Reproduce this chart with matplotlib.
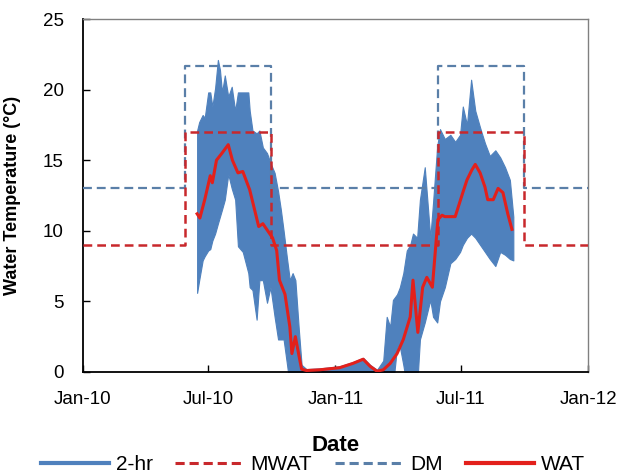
import numpy as np
import matplotlib
matplotlib.use("Agg")
import matplotlib.pyplot as plt
import matplotlib.dates as mdates
from matplotlib.lines import Line2D

plt.rcParams['font.family'] = ['Liberation Sans', 'DejaVu Sans']

# 2-hr readings, drawn as the daily band (upper / lower envelope)
band_dates = ['2010-06-15', '2010-06-18', '2010-06-23', '2010-06-26', '2010-07-01', '2010-07-04',
              '2010-07-07', '2010-07-11', '2010-07-15', '2010-07-18', '2010-07-21', '2010-07-25',
              '2010-07-30', '2010-08-04', '2010-08-09', '2010-08-13', '2010-08-20', '2010-08-28',
              '2010-08-30', '2010-09-03', '2010-09-09', '2010-09-13', '2010-09-18', '2010-09-24',
              '2010-09-29', '2010-10-05', '2010-10-10', '2010-10-14', '2010-10-18', '2010-10-23',
              '2010-10-27', '2010-10-31', '2010-11-04', '2010-11-09', '2010-11-13',
              '2010-11-20', '2010-12-09', '2011-01-07', '2011-01-26', '2011-02-10', '2011-02-20',
              '2011-03-02',
              '2011-03-11', '2011-03-16', '2011-03-21', '2011-03-25', '2011-03-31', '2011-04-04',
              '2011-04-09', '2011-04-14', '2011-04-19', '2011-04-23', '2011-04-29', '2011-05-03',
              '2011-05-10', '2011-05-18', '2011-05-22', '2011-05-28', '2011-06-01', '2011-06-08',
              '2011-06-16', '2011-06-23', '2011-06-30', '2011-07-04', '2011-07-10', '2011-07-16',
              '2011-07-22', '2011-07-29', '2011-08-05', '2011-08-12', '2011-08-20', '2011-08-27',
              '2011-09-03', '2011-09-10', '2011-09-15']
band_upper = [17.1, 17.7, 18.2, 18.0, 19.8, 19.8, 18.8, 20.1, 22.1, 21.4, 19.8, 21.0, 19.5,
              20.2, 18.5, 19.8, 19.8, 19.8, 18.5, 17.1, 16.9, 17.1, 15.9, 15.5, 14.8,
              14.1, 12.8, 11.5, 10.0, 8.0, 6.5, 7.0, 6.5, 3.0, 0.5,
              0.2, 0.25, 0.4, 0.7, 1.0, 0.5, 0.15,
              0.8, 3.9, 3.2, 5.1, 5.5, 6.0, 7.0, 8.6, 9.0, 9.8, 9.5,
              12.2, 14.5, 9.5, 12.0, 16.0, 17.2, 16.5, 16.8, 16.3, 16.8,
              18.8, 17.5, 20.7, 18.5, 17.3, 16.2, 15.3, 15.7, 15.2, 14.5, 13.6, 11.0]
band_lower = [5.6, 6.5, 7.9, 8.2, 8.6, 8.7, 9.3, 9.8, 10.5, 11.0, 11.5, 12.2, 14.0,
              13.0, 12.2, 8.9, 8.5, 7.0, 6.0, 5.8, 3.7, 6.5, 6.5, 4.9, 6.0,
              3.9, 2.3, 2.3, 2.3, 0.5, -1, -1, -1, -1, -1,
              -1, -1, -1, -1, -1, -1, -1,
              -1, -1, -1, -1, 1.8, 1.8, 0.5, -1, -1, -1, -1,
              2.3, 3.5, 5.1, 3.9, 3.5, 5.0, 6.0, 7.7, 8.0, 8.5,
              9.0, 9.5, 9.8, 9.5, 9.0, 8.5, 8.0, 7.5, 8.5, 8.3, 8.0, 7.9]

# WAT (7-day average)
wat_dates = ['2010-06-15', '2010-06-19', '2010-06-26', '2010-07-04', '2010-07-07', '2010-07-13',
             '2010-07-21', '2010-07-30', '2010-08-05', '2010-08-13', '2010-08-20', '2010-08-30',
             '2010-09-06', '2010-09-12', '2010-09-18', '2010-09-25', '2010-10-02', '2010-10-08',
             '2010-10-12', '2010-10-20', '2010-10-27', '2010-10-30', '2010-11-04', '2010-11-09',
             '2010-11-13', '2010-11-20', '2010-12-09', '2011-01-07', '2011-01-26', '2011-02-10',
             '2011-02-20', '2011-03-02', '2011-03-11', '2011-03-21', '2011-03-31', '2011-04-09',
             '2011-04-19', '2011-04-23', '2011-04-30', '2011-05-07', '2011-05-13', '2011-05-21',
             '2011-05-25', '2011-05-29', '2011-06-04', '2011-06-08', '2011-06-23', '2011-07-04',
             '2011-07-10', '2011-07-17', '2011-07-22', '2011-07-29', '2011-08-05', '2011-08-09',
             '2011-08-17', '2011-08-24', '2011-08-31', '2011-09-07', '2011-09-13']
wat_vals = [11.2, 10.9, 12.2, 13.9, 13.4, 15.0, 15.5, 16.1, 15.0, 14.1, 14.2, 12.9,
            11.5, 10.3, 10.5, 10.0, 9.5, 8.6, 6.5, 5.5, 3.2, 1.3, 2.5, 1.2,
            0.2, 0.1, 0.15, 0.3, 0.6, 0.9, 0.4, 0.05, 0.15, 0.6, 1.3, 2.3,
            3.9, 6.5, 2.8, 6.0, 6.7, 6.0, 8.4, 10.8, 11.1, 11.0, 11.0, 12.7,
            13.6, 14.3, 14.7, 14.1, 13.1, 12.2, 12.2, 13.0, 12.7, 11.2, 10.1]

# criteria (step changes)
crit_dates = ['2010-01-01', '2010-05-29', '2010-09-30', '2011-05-29', '2011-09-30', '2012-01-01']
mwat_vals = [9, 17, 9, 17, 9, 9]
dm_vals = [13, 21.7, 13, 21.7, 13, 13]

xticks = ['2010-01-01', '2010-07-01', '2011-01-01', '2011-07-01', '2012-01-01']

c_band = '#4F81BD'
c_wat = '#E3201B'
c_mwat = '#C8282C'
c_dm = '#5A7FA8'

bd = np.array(band_dates, dtype='datetime64[D]')
wd = np.array(wat_dates, dtype='datetime64[D]')
cd = np.array(crit_dates, dtype='datetime64[D]')

fig = plt.figure(figsize=(6.19, 4.75), dpi=100)
ax = fig.add_axes([0.134, 0.217, 0.816, 0.743])

ax.fill_between(bd, band_lower, band_upper, color=c_band, lw=0.8, edgecolor=c_band, zorder=2)
ax.plot(cd, dm_vals, drawstyle='steps-post', color=c_dm, lw=1.6, dashes=(4, 2.2), zorder=3)
ax.plot(cd, mwat_vals, drawstyle='steps-post', color=c_mwat, lw=1.8, dashes=(3.5, 2), zorder=3)
ax.plot(wd, wat_vals, color=c_wat, lw=2.2, zorder=4)

ax.set_xlim(np.datetime64('2010-01-01'), np.datetime64('2012-01-01'))
ax.set_ylim(0, 25)
ax.set_xticks(np.array(xticks, dtype='datetime64[D]'))
ax.xaxis.set_major_formatter(mdates.DateFormatter('%b-%y'))
ax.set_yticks(np.arange(0, 26, 5))
ax.tick_params(direction='in', length=5, width=1, pad=14, labelsize=13.5)

for s in ['left', 'bottom']:
    ax.spines[s].set_color('black')
    ax.spines[s].set_linewidth(1.3)
for s in ['top', 'right']:
    ax.spines[s].set_color('#808080')
    ax.spines[s].set_linewidth(1)

ax.set_ylabel('Water Temperature (°C)', fontsize=13, fontweight='bold')
ax.yaxis.set_label_coords(-0.122, 0.5)
ax.set_xlabel('Date', fontsize=16, fontweight='bold')
ax.xaxis.set_label_coords(0.5, -0.178)

handles = [Line2D([], [], color=c_band, lw=3),
           Line2D([], [], color=c_mwat, lw=2.2, dashes=(3, 1.6)),
           Line2D([], [], color=c_dm, lw=2.2, dashes=(3, 1.6)),
           Line2D([], [], color=c_wat, lw=3)]
fig.legend(handles, ['2-hr', 'MWAT', 'DM', 'WAT'], loc='center', bbox_to_anchor=(0.505, 0.022),
           ncol=4, frameon=False, fontsize=15, handlelength=3.3, handletextpad=0.3,
           columnspacing=1.1)

fig.savefig('out.png', dpi=100)
